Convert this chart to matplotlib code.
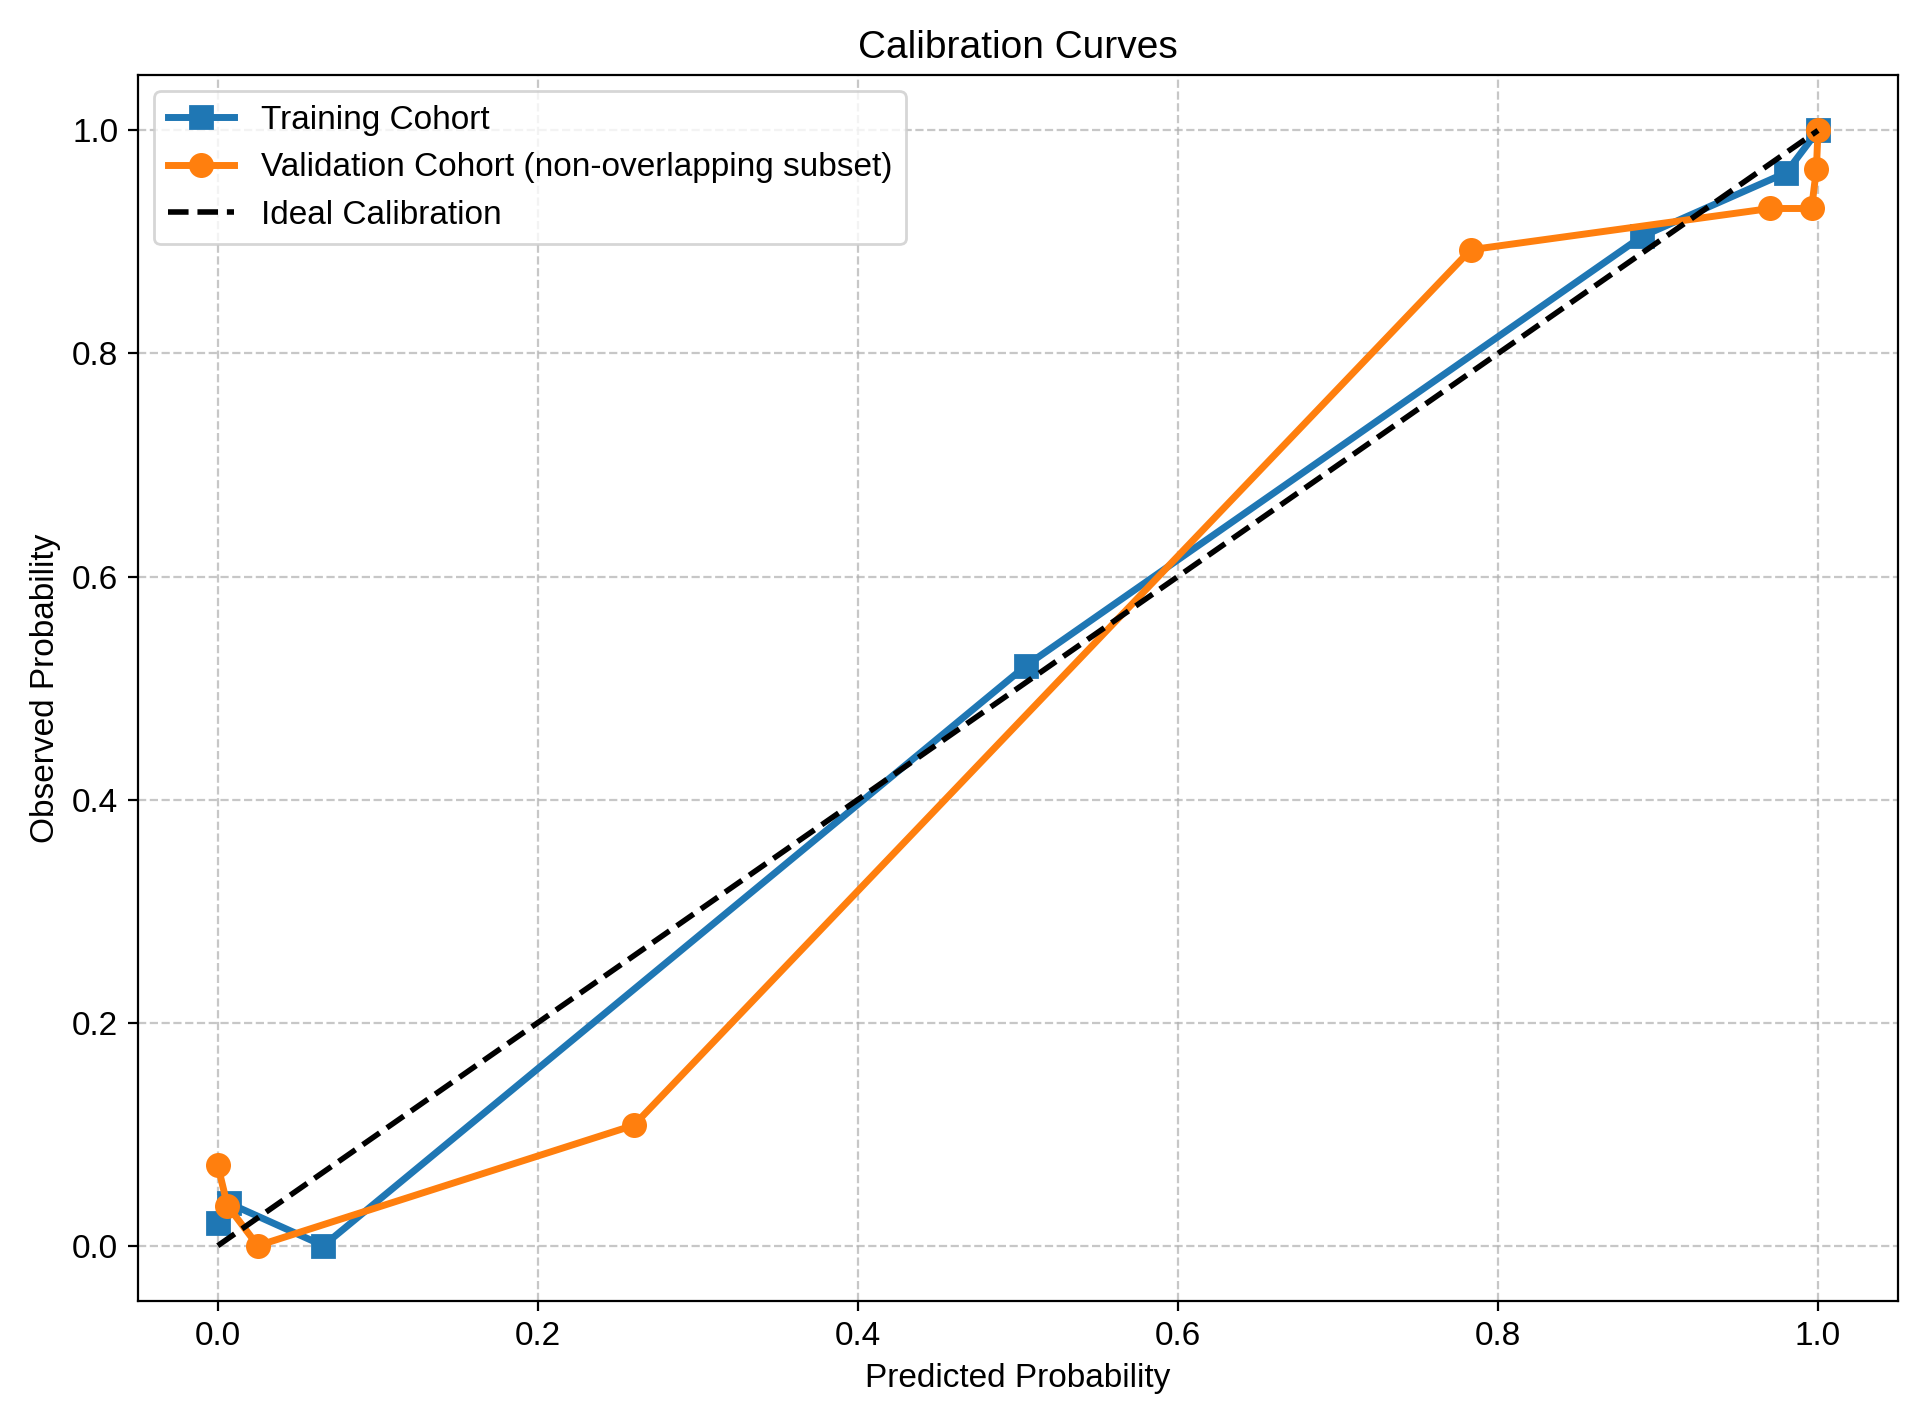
import matplotlib
matplotlib.use('Agg')
import matplotlib.pyplot as plt

plt.rcParams['font.family'] = ['Liberation Sans', 'DejaVu Sans']

train_x = [0.0, 0.007, 0.066, 0.505, 0.89, 0.98, 1.0]
train_y = [0.02, 0.038, 0.0, 0.52, 0.905, 0.962, 1.0]
val_x = [0.0, 0.006, 0.025, 0.26, 0.783, 0.97, 0.996, 0.999, 1.0]
val_y = [0.072, 0.036, 0.0, 0.108, 0.893, 0.93, 0.93, 0.965, 1.0]

fig, ax = plt.subplots(figsize=(9.64, 7.12), dpi=200)
ax.plot(train_x, train_y, marker='s', color='#1f77b4', lw=2.5, ms=8, label='Training Cohort')
ax.plot(val_x, val_y, marker='o', color='#ff7f0e', lw=2.5, ms=8,
        label='Validation Cohort (non-overlapping subset)')
ax.plot([0, 1], [0, 1], 'k--', lw=2, label='Ideal Calibration')
ax.grid(True, linestyle='--', alpha=0.7)
ax.set_xlabel('Predicted Probability', fontsize=12)
ax.set_ylabel('Observed Probability', fontsize=12)
ax.set_title('Calibration Curves', fontsize=14)
ax.tick_params(labelsize=12)
ax.legend(loc='upper left', fontsize=12)
plt.tight_layout()
plt.savefig('out.png')
